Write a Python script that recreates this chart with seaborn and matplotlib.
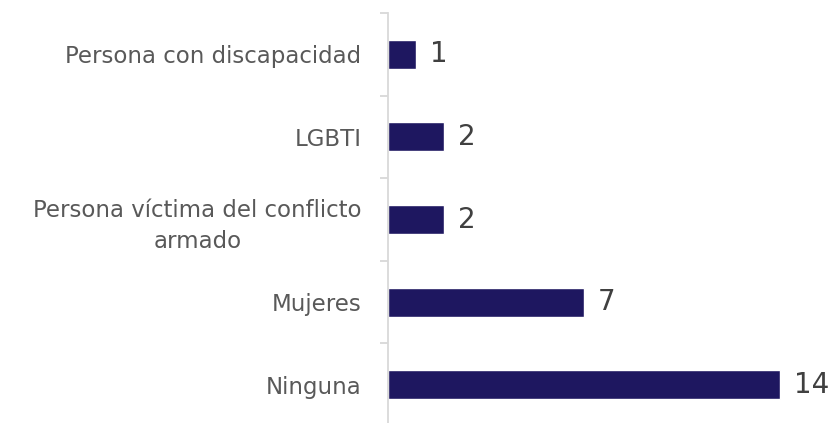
import matplotlib
matplotlib.use("Agg")
import matplotlib.pyplot as plt
import seaborn as sns
import pandas as pd
from matplotlib.ticker import FixedLocator

categories = ["Persona con discapacidad", "LGBTI",
              "Persona víctima del conflicto\narmado", "Mujeres", "Ninguna"]
values = [1, 2, 2, 7, 14]

sns.set_theme(style="white")
plt.rcParams['font.family'] = ['DejaVu Sans']

df = pd.DataFrame({"cat": categories, "val": values})

fig = plt.figure(figsize=(8.33, 4.23), dpi=100)
ax = fig.add_axes([388/833, -3/423, 442/833, (423 - 13 + 3)/423])

sns.barplot(data=df, y="cat", x="val", orient="h", color="#1E1760",
            width=0.35, ax=ax, saturation=1)

ax.set_xlim(0, 442/28)
ax.set_ylim(4.5, -0.5)
ax.set_xlabel("")
ax.set_ylabel("")
ax.set_xticks([])

for s in ["top", "right", "bottom"]:
    ax.spines[s].set_visible(False)
ax.spines["left"].set_color("#d9d9d9")
ax.spines["left"].set_linewidth(1.3)

ax.tick_params(axis="y", which="major", length=0, pad=19, labelsize=16.5,
               labelcolor="#595959")
ax.yaxis.set_minor_locator(FixedLocator([i + 0.5 for i in range(-1, 5)]))
ax.tick_params(axis="y", which="minor", length=6, width=1.2, color="#d4d4d4",
               left=True)
for lbl in ax.get_yticklabels():
    lbl.set_horizontalalignment("right")
    lbl.set_multialignment("center")
    lbl.set_linespacing(1.45)

for i, v in enumerate(values):
    ax.annotate(str(v), xy=(v, i), xytext=(10, 0), textcoords="offset points",
                va="center", ha="left", fontsize=20, color="#404040")

fig.savefig("out.png", dpi=100)
